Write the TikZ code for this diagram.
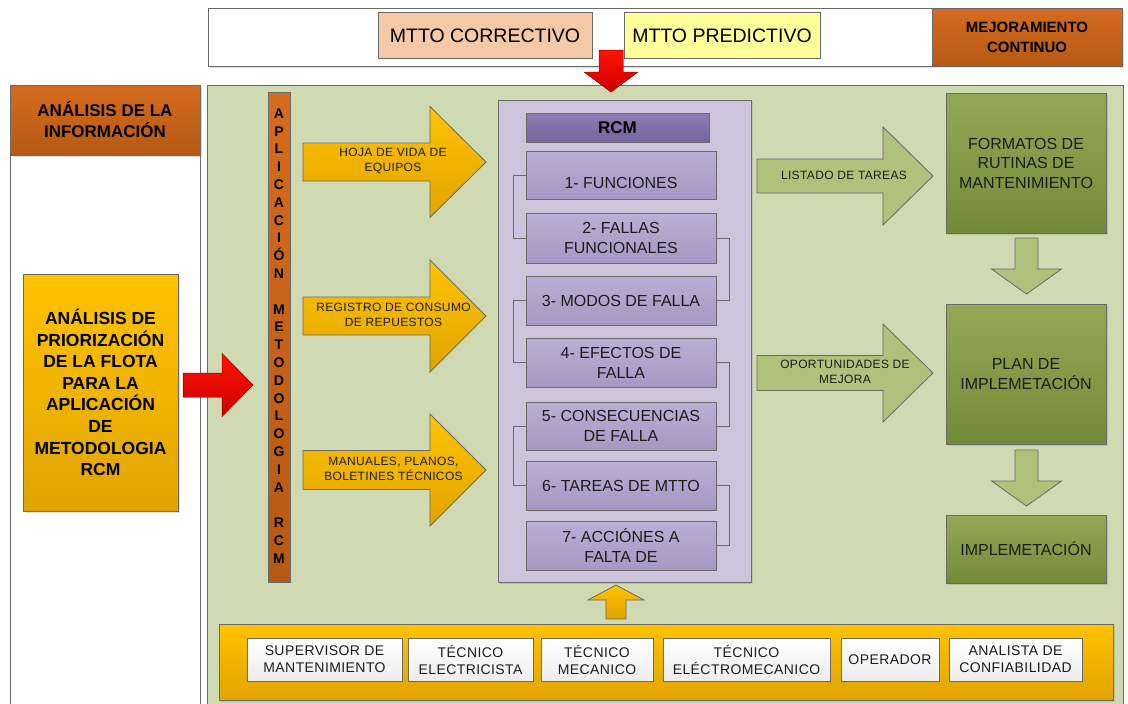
\documentclass[tikz,border=0pt]{standalone}
\usepackage{fontspec}
\setmainfont{Liberation Sans}
\newfontfamily\lsfont[LetterSpace=3]{Liberation Sans}
\usetikzlibrary{shadows}
\definecolor{orgT}{HTML}{D46C1E}
\definecolor{orgB}{HTML}{B65914}
\definecolor{peach}{HTML}{F4C9A6}
\definecolor{lyel}{HTML}{FFFF99}
\definecolor{yelT}{HTML}{FFC300}
\definecolor{yelB}{HTML}{E0A400}
\definecolor{panel}{HTML}{CFD9B2}
\definecolor{lav}{HTML}{CBC4DB}
\definecolor{purT}{HTML}{8C7DB3}
\definecolor{purB}{HTML}{7464A0}
\definecolor{stepT}{HTML}{BAAFD4}
\definecolor{stepB}{HTML}{A598C2}
\definecolor{lgreen}{HTML}{AFC27C}
\definecolor{dgT}{HTML}{93A955}
\definecolor{dgB}{HTML}{738A39}
\definecolor{redA}{HTML}{E8000A}
\definecolor{edge}{HTML}{6A6A6A}
\definecolor{txt}{HTML}{1C1C1C}
\newcommand\fsz[2]{\fontsize{#1}{#2}\selectfont}
% right/left/down/up block arrows: style, x0, x1, x2, centre, stem half, head half
\newcommand\RArrow[7]{\draw[#1] (#2,#5-#6) -- (#3,#5-#6) -- (#3,#5-#7) -- (#4,#5) -- (#3,#5+#7) -- (#3,#5+#6) -- (#2,#5+#6) -- cycle;}
\newcommand\VArrow[7]{\draw[#1] (#5-#6,#2) -- (#5-#6,#3) -- (#5-#7,#3) -- (#5,#4) -- (#5+#7,#3) -- (#5+#6,#3) -- (#5+#6,#2) -- cycle;}
\tikzset{
  every node/.style={inner sep=0pt, outer sep=0pt},
  shd/.style={drop shadow={opacity=0.25, shadow xshift=1.5pt, shadow yshift=-1.5pt}},
  hdr/.style={draw=edge, line width=0.8pt, top color=orgT, bottom color=orgB, align=center, font=\bfseries\fsz{17}{21}},
  ybox/.style={draw=edge, line width=0.8pt, top color=yelT, bottom color=yelB, align=center},
  yarrow/.style={draw=edge, line width=0.8pt, top color=yelT, bottom color=yelB},
  garrow/.style={draw=edge, line width=0.8pt, fill=lgreen},
  redarrow/.style={draw=red!60!black, line width=0.5pt, top color=red!85!orange, bottom color=red!80!black, fill=redA},
  stepbox/.style={draw=edge, line width=0.8pt, top color=stepT, bottom color=stepB, minimum width=190pt, align=center, font=\fsz{16}{20}, text=txt},
  dgbox/.style={draw=edge, line width=0.8pt, top color=dgT, bottom color=dgB, minimum width=160pt, align=center, font=\fsz{16}{19.5}, text=txt},
  wbox/.style={draw=edge, line width=0.8pt, top color=white, bottom color=gray!14, minimum height=43pt, align=center, font=\lsfont\fsz{14}{17}, text=txt},
  atxt/.style={align=center, font=\lsfont\fsz{12}{15}, text=txt},
  conn/.style={draw=edge, line width=0.9pt},
}
\begin{document}
\begin{tikzpicture}[x=1pt,y=-1pt]
\useasboundingbox (0,0) rectangle (1128,704);
\fill[white] (0,0) rectangle (1128,704);

% left column
\node[draw=edge, line width=0.8pt, fill=white, minimum width=190pt, minimum height=570pt, anchor=north west] (leftpanel) at (10,150) {};
\node[hdr, shd, minimum width=190pt, minimum height=70pt] (info) at (105,120) {ANÁLISIS DE LA\\INFORMACIÓN};
\node[ybox, shd, minimum width=155pt, minimum height=237pt, font=\bfseries\fsz{17.5}{21.6}] (prior) at (100.5,392.5) {ANÁLISIS DE\\PRIORIZACIÓN\\DE LA FLOTA\\PARA LA\\APLICACIÓN\\DE\\METODOLOGIA\\RCM};

% main green panel
\node[draw=edge, line width=0.8pt, fill=panel, minimum width=916pt, minimum height=640pt, anchor=north west] (main) at (207,85) {};

% top band
\node[draw=edge, line width=0.8pt, fill=white, shd, minimum width=914pt, minimum height=58pt, anchor=north west] (band) at (208,8) {};
\node[draw=edge, line width=0.8pt, fill=peach, minimum width=214pt, minimum height=46pt, font=\fsz{19.5}{22}] (corr) at (485,35.5) {MTTO CORRECTIVO};
\node[draw=edge, line width=0.8pt, fill=lyel, minimum width=196pt, minimum height=46pt, font=\fsz{19.5}{22}] (pred) at (722,35.5) {MTTO PREDICTIVO};
\node[hdr, minimum width=190pt, minimum height=58pt, anchor=north east, font=\bfseries\fsz{15}{20}] (mejora) at (1122,8) {MEJORAMIENTO\\CONTINUO};

% red arrows
\VArrow{redarrow}{50}{72}{92}{611}{12}{27}
\RArrow{redarrow}{183}{222}{253}{385}{12}{31.5}

% vertical bar
\node[hdr, minimum width=22pt, minimum height=490pt, anchor=north west] (bar) at (268,92) {};
\node[align=center, font=\bfseries\fsz{14}{17.8}] (bartxt) at (279,336) {A\\P\\L\\I\\C\\A\\C\\I\\Ó\\N\\[17.8pt]M\\E\\T\\O\\D\\O\\L\\O\\G\\I\\A\\[17.8pt]R\\C\\M};

% yellow input arrows
\RArrow{yarrow}{303}{430}{486}{162}{19}{55.5}
\RArrow{yarrow}{303}{430}{486}{316}{19}{56}
\RArrow{yarrow}{303}{430}{486}{470}{19.5}{56}
\node[atxt] (in1) at (393,160.5) {HOJA DE VIDA DE\\EQUIPOS};
\node[atxt] (in2) at (393.5,314.5) {REGISTRO DE CONSUMO\\DE REPUESTOS};
\node[atxt] (in3) at (393.5,468.5) {MANUALES, PLANOS,\\BOLETINES TÉCNICOS};

% RCM block
\node[draw=edge, line width=0.8pt, fill=lav, shd, minimum width=253pt, minimum height=482pt, anchor=north west] (rcmbox) at (498,100) {};
\node[draw=edge, line width=0.8pt, top color=purT, bottom color=purB, minimum width=183pt, minimum height=29pt, font=\bfseries\fsz{17}{20}] (rcm) at (617.5,127.5) {RCM};
\node[stepbox, minimum height=48pt] (s1) at (621,175) {};
\node[align=center, font=\fsz{16}{20}, text=txt] (t1) at (621,183) {1- FUNCIONES};
\node[stepbox, minimum height=50pt] (s2) at (621,238) {2- FALLAS\\FUNCIONALES};
\node[stepbox, minimum height=49pt] (s3) at (621,300.5) {3- MODOS DE FALLA};
\node[stepbox, minimum height=49pt] (s4) at (621,362.5) {4- EFECTOS DE\\FALLA};
\node[stepbox, minimum height=48pt] (s5) at (621,426) {5- CONSECUENCIAS\\DE FALLA};
\node[stepbox, minimum height=49pt] (s6) at (621,485.5) {6- TAREAS DE MTTO};
\node[stepbox, minimum height=49pt] (s7) at (621,545.5) {7- ACCIÓNES A\\FALTA DE};
\draw[conn] (s1.west) -- ++(-13,0) |- (s2.west);
\draw[conn] (s2.east) -- ++(13,0) |- (s3.east);
\draw[conn] (s3.west) -- ++(-13,0) |- (s4.west);
\draw[conn] (s4.east) -- ++(13,0) |- (s5.east);
\draw[conn] (s5.west) -- ++(-13,0) |- (s6.west);
\draw[conn] (s6.east) -- ++(13,0) |- (s7.east);

% output arrows
\RArrow{garrow}{757}{883}{933}{176}{17}{49}
\RArrow{garrow}{757}{883}{933}{373}{17.5}{49}
\node[atxt] (out1) at (844,175) {LISTADO DE TAREAS};
\node[atxt] (out2) at (845,372) {OPORTUNIDADES DE\\MEJORA};

% right column
\node[dgbox, shd, minimum height=140pt] (fmt) at (1026,163) {FORMATOS DE\\RUTINAS DE\\MANTENIMIENTO};
\node[dgbox, shd, minimum height=140pt] (plan) at (1026,374) {PLAN DE\\IMPLEMETACIÓN};
\node[dgbox, shd, minimum height=68pt] (impl) at (1026,549) {IMPLEMETACIÓN};
\VArrow{garrow}{238}{269}{294}{1026.5}{11.5}{35}
\VArrow{garrow}{450}{481}{506}{1026.5}{11.5}{35}

% team
\VArrow{yarrow}{619}{600}{585}{616}{10}{28}
\node[ybox, shd, minimum width=894pt, minimum height=76pt, anchor=north west] (team) at (219,624) {};
\node[wbox, minimum width=155pt] (w1) at (324.5,659.5) {SUPERVISOR DE\\MANTENIMIENTO};
\node[wbox, minimum width=125pt] (w2) at (470.5,659.5) {TÉCNICO\\ELECTRICISTA};
\node[wbox, minimum width=112pt] (w3) at (597,659.5) {TÉCNICO\\MECANICO};
\node[wbox, minimum width=167pt] (w4) at (746.5,659.5) {TÉCNICO\\ELÉCTROMECANICO};
\node[wbox, minimum width=98pt] (w5) at (890,659.5) {OPERADOR};
\node[wbox, minimum width=133pt] (w6) at (1015.5,659.5) {ANALISTA DE\\CONFIABILIDAD};
\end{tikzpicture}
\end{document}
